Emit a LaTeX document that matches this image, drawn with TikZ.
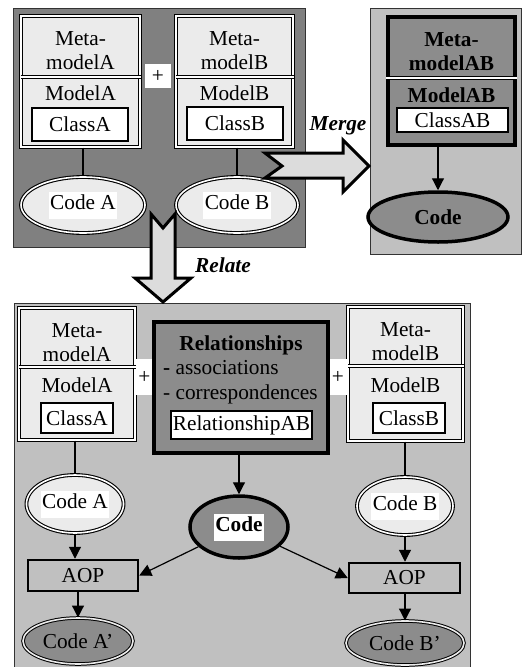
\documentclass[tikz,border=0pt]{standalone}
\usepackage{fontspec}
\setmainfont{Liberation Serif}
\usetikzlibrary{arrows.meta,shapes.geometric,positioning}

\definecolor{panelDark}{HTML}{808080}
\definecolor{panelLight}{HTML}{C0C0C0}
\definecolor{boxLight}{HTML}{EBEBEB}
\definecolor{boxDark}{HTML}{8C8C8C}
\definecolor{arrowFill}{HTML}{DCDCDC}

\newcommand{\diagfont}{\fontsize{21.3}{24}\selectfont}
\newcommand{\wlabel}[1]{{\setlength{\fboxsep}{1.5pt}\colorbox{white}{\strut #1}}}

\tikzset{
  panel/.style={draw=black!80, line width=1pt},
  modelbox/.style={draw, double=white, double distance=1.5pt, line width=1pt, fill=boxLight, inner sep=0pt},
  mergedbox/.style={draw, line width=4pt, fill=boxDark, inner sep=0pt},
  divider/.style={double=white, double distance=1.5pt, line width=1pt},
  classbox/.style={draw, line width=1.2pt, fill=white, inner sep=0pt},
  plusbox/.style={fill=white, inner sep=0pt},
  txt/.style={align=center, inner sep=0pt},
  codeell/.style={ellipse, draw, double=white, double distance=1.6pt, line width=1.1pt, fill=boxLight, inner sep=0pt},
  codebold/.style={ellipse, draw, line width=3.5pt, fill=boxDark, inner sep=0pt, font=\diagfont\bfseries},
  codedone/.style={ellipse, draw, double=boxLight, double distance=1.6pt, line width=1pt, fill=boxDark, inner sep=0pt},
  aop/.style={draw, line width=2.5pt, fill=panelLight, inner sep=0pt},
  link/.style={line width=1.2pt},
  bigarrow/.style={draw, line width=3pt, fill=arrowFill, line join=miter},
  steplabel/.style={font=\diagfont\bfseries\itshape},
}

\begin{document}
\begin{tikzpicture}[x=1pt, y=-1pt, >={Triangle[length=12pt, width=12pt]}, every node/.style={font=\diagfont}]
  \useasboundingbox (0,0) rectangle (528,667);
  \fill[white] (0,0) rectangle (528,667);
  % panels
  \draw[panel, fill=panelDark]  (13,8) rectangle (305,247);
  \draw[panel, fill=panelLight] (370,8) rectangle (521,254);
  \draw[panel, fill=panelLight] (14,303) rectangle (470,672);

  % top left: the two models side by side
  \node[modelbox, minimum width=119pt, minimum height=131pt] (mmA) at (80.5,81.5) {};
  \draw[divider] (mmA.west |- 0,77) -- (mmA.east |- 0,77);
  \node[txt] (metaA)  at (80.5,51) {Meta-\\modelA};
  \node[txt] (modelA) at (80.5,93) {ModelA};
  \node[classbox, minimum width=96pt, minimum height=33pt] (classA) at (80,124.5) {ClassA};

  \node[modelbox, minimum width=117pt, minimum height=131pt] (mmB) at (234.5,81.5) {};
  \draw[divider] (mmB.west |- 0,77) -- (mmB.east |- 0,77);
  \node[txt] (metaB)  at (234.5,51) {Meta-\\modelB};
  \node[txt] (modelB) at (234.5,93) {ModelB};
  \node[classbox, minimum width=96pt, minimum height=33pt] (classB) at (235,123.5) {ClassB};

  \node[plusbox, minimum width=26pt, minimum height=24pt] (plusTop) at (158,76) {+};

  \node[codeell, minimum width=124pt, minimum height=56pt] (codeA) at (83,205) {\wlabel{Code A}};
  \node[codeell, minimum width=122pt, minimum height=56pt] (codeB) at (237,205) {\wlabel{Code B}};
  \draw[link] (codeA.north |- mmA.south) -- (codeA.north);
  \draw[link] (codeB.north |- mmB.south) -- (codeB.north);

  % right: merged model
  \node[mergedbox, minimum width=127pt, minimum height=128pt] (mmAB) at (451.5,81) {};
  \draw[divider] (mmAB.west |- 0,78) -- (mmAB.east |- 0,78);
  \node[txt, font=\diagfont\bfseries] (metaAB)  at (451.5,52) {Meta-\\modelAB};
  \node[txt, font=\diagfont\bfseries] (modelAB) at (451.5,95) {ModelAB};
  \node[classbox, minimum width=111pt, minimum height=24pt] (classAB) at (452.5,120) {ClassAB};
  \node[codebold, minimum width=140pt, minimum height=50pt] (codeAB) at (438,217) {Code};
  \draw[link, ->] (codeAB.north |- mmAB.south) -- (codeAB.north);

  % block arrows
  \draw[bigarrow] (265,153) -- (343,153) -- (343,140) -- (369,166) -- (343,192)
    -- (343,178) -- (265,178) -- (282,166) -- cycle;
  \draw[bigarrow] (151,214) -- (163,228) -- (175,214) -- (175,278) -- (191,278)
    -- (163,302) -- (135,278) -- (151,278) -- cycle;
  \node[steplabel] (mergeLbl)  at (338,126) {Merge};
  \node[steplabel] (relateLbl) at (223,265) {Relate};

  % bottom: related models
  \node[modelbox, minimum width=116pt, minimum height=132pt] (relMmA) at (77,374) {};
  \draw[divider] (relMmA.west |- 0,367) -- (relMmA.east |- 0,367);
  \node[txt] (relMetaA)  at (77,343) {Meta-\\modelA};
  \node[txt] (relModelA) at (77,385) {ModelA};
  \node[classbox, minimum width=72pt, minimum height=30pt] (relClassA) at (77,418) {ClassA};

  \node[modelbox, minimum width=115pt, minimum height=134pt] (relMmB) at (405.5,374) {};
  \draw[divider] (relMmB.west |- 0,366) -- (relMmB.east |- 0,366);
  \node[txt] (relMetaB)  at (405.5,342) {Meta-\\modelB};
  \node[txt] (relModelB) at (405.5,385) {ModelB};
  \node[classbox, minimum width=72pt, minimum height=30pt] (relClassB) at (409,418) {ClassB};

  \node[plusbox, minimum width=17pt, minimum height=36pt] (plusL) at (144.5,377) {+};
  \node[plusbox, minimum width=20pt, minimum height=36pt] (plusR) at (338,377) {+};

  \node[mergedbox, minimum width=174pt, minimum height=131pt] (rel) at (241,387.5) {};
  \node[txt, font=\diagfont\bfseries] (relTitle) at (241,345) {Relationships};
  \node[txt, anchor=west] (relAssoc) at (163,368) {\textbf{-} associations};
  \node[txt, anchor=west] (relCorr)  at (163,394) {- correspondences};
  \node[classbox, minimum width=141pt, minimum height=28pt] (relAB) at (241.5,425) {RelationshipAB};

  \node[codeell, minimum width=96pt, minimum height=58pt] (relCodeA) at (75,504) {\wlabel{Code A}};
  \node[codeell, minimum width=96pt, minimum height=58pt] (relCodeB) at (405,506) {\wlabel{Code B}};
  \node[codebold, minimum width=98pt, minimum height=62pt] (code) at (239,527) {\wlabel{Code}};

  \node[aop, minimum width=110pt, minimum height=31pt] (aopA) at (83,575.5) {AOP};
  \node[aop, minimum width=111pt, minimum height=30pt] (aopB) at (404.5,578) {AOP};

  \node[codedone, minimum width=110pt, minimum height=46pt] (codeA2) at (78,641) {Code A’};
  \node[codedone, minimum width=118pt, minimum height=44pt] (codeB2) at (405,643) {Code B’};

  \draw[link] (relCodeA.north |- relMmA.south) -- (relCodeA.north);
  \draw[link] (relCodeB.north |- relMmB.south) -- (relCodeB.north);
  \draw[link, ->] (code.north |- rel.south) -- (code.north);
  \draw[link, ->] (relCodeA.south) -- (relCodeA.south |- aopA.north);
  \draw[link, ->] (relCodeB.south) -- (relCodeB.south |- aopB.north);
  \draw[link, ->] (code) -- (aopA.east);
  \draw[link, ->] (code) -- (aopB.west);
  \draw[link, ->] (codeA2.north |- aopA.south) -- (codeA2.north);
  \draw[link, ->] (codeB2.north |- aopB.south) -- (codeB2.north);
\end{tikzpicture}
\end{document}
